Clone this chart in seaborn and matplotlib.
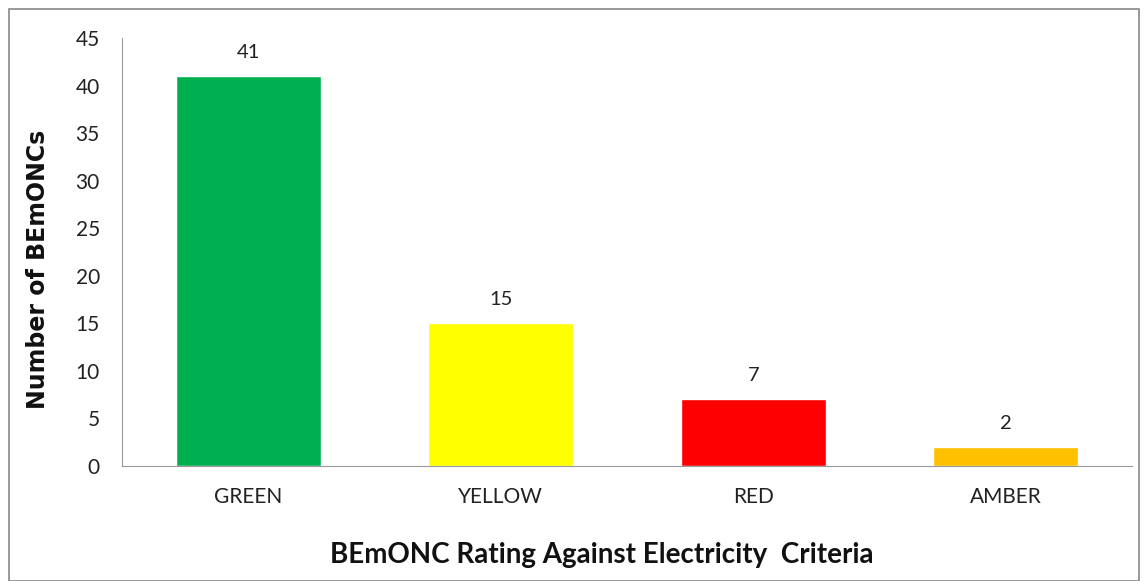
import matplotlib
matplotlib.use('Agg')
import matplotlib.pyplot as plt
import seaborn as sns
import pandas as pd
from matplotlib.patches import Rectangle

# Chart data
ratings = ['GREEN', 'YELLOW', 'RED', 'AMBER']
counts = [41, 15, 7, 2]
bar_colors = ['#00B050', '#FFFF00', '#FF0000', '#FFC000']
y_ticks = [0, 5, 10, 15, 20, 25, 30, 35, 40, 45]

df = pd.DataFrame({'Rating': ratings, 'Count': counts})

sns.set_style('white')
plt.rcParams['font.family'] = ['Lato', 'DejaVu Sans']

fig = plt.figure(figsize=(11.48, 5.81), dpi=100)
ax = fig.add_axes([0.1063, 0.198, 0.8797, 0.7366])

sns.barplot(data=df, x='Rating', y='Count', hue='Rating', palette=bar_colors,
            legend=False, width=0.575, saturation=1, ax=ax)

# value labels above bars
for container in ax.containers:
    ax.bar_label(container, padding=11, fontsize=14.5, color='#222222')

ax.set_ylim(0, 45)
ax.set_yticks(y_ticks)
ax.set_xlim(-0.5, 3.5)
ax.tick_params(axis='both', length=0, labelsize=15, colors='#222222')
ax.tick_params(axis='x', pad=15)
ax.tick_params(axis='y', pad=16)

ax.set_xlabel('BEmONC Rating Against Electricity  Criteria', fontsize=20,
              fontweight='bold', color='#111111')
ax.set_ylabel('Number of BEmONCs', fontsize=17, fontweight='bold',
              family='DejaVu Sans', color='#111111')
ax.xaxis.set_label_coords(0.475, -0.178)
ax.yaxis.set_label_coords(-0.071, 0.46)

sns.despine(ax=ax)
ax.spines['left'].set_color('#999999')
ax.spines['bottom'].set_color('#999999')

# outer chart border
fig.patches.append(Rectangle((9 / 1148, 0), 1 - 18 / 1148, 1 - 9 / 581,
                             transform=fig.transFigure, fill=False,
                             edgecolor='#888888', linewidth=1.2))

fig.savefig('out.png', dpi=100)
